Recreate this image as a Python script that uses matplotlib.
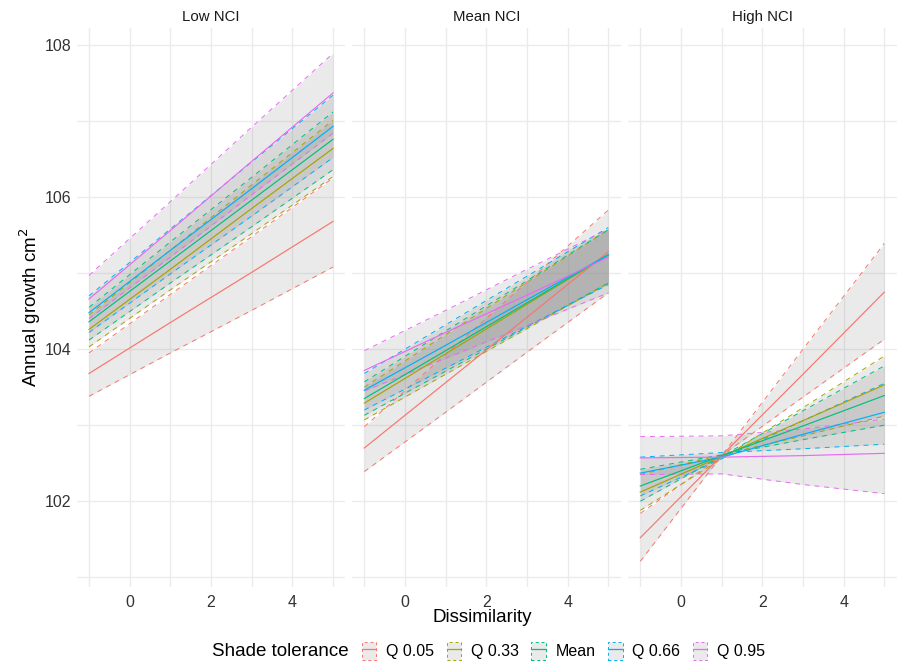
import matplotlib

matplotlib.use("Agg")
import matplotlib.pyplot as plt
from matplotlib.legend_handler import HandlerTuple
from matplotlib.lines import Line2D
from matplotlib.patches import Patch

X = [-1, 1, 3, 5]
LEVELS = ["Q 0.05", "Q 0.33", "Mean", "Q 0.66", "Q 0.95"]
COLORS = ["#F8766D", "#A3A500", "#00BF7D", "#00B0F6", "#E76BF3"]
PANELS = ["Low NCI", "Mean NCI", "High NCI"]

# Low NCI: one row per shade-tolerance level
LOW_FIT = [
    [103.68, 104.35, 105.01, 105.68],
    [104.26, 105.05, 105.85, 106.64],
    [104.36, 105.16, 105.96, 106.76],
    [104.48, 105.30, 106.11, 106.93],
    [104.66, 105.56, 106.47, 107.37],
]
LOW_LO = [
    [103.38, 103.95, 104.51, 105.08],
    [104.03, 104.78, 105.52, 106.27],
    [104.12, 104.87, 105.61, 106.36],
    [104.22, 104.99, 105.75, 106.52],
    [104.40, 105.21, 106.03, 106.84],
]
LOW_HI = [
    [103.95, 104.72, 105.48, 106.25],
    [104.45, 105.30, 106.16, 107.01],
    [104.55, 105.41, 106.26, 107.12],
    [104.70, 105.58, 106.46, 107.34],
    [104.97, 105.94, 106.92, 107.89],
]

# Mean NCI
MEAN_FIT = [
    [102.70, 103.56, 104.42, 105.28],
    [103.29, 103.94, 104.59, 105.24],
    [103.35, 103.98, 104.61, 105.24],
    [103.46, 104.05, 104.65, 105.24],
    [103.72, 104.22, 104.71, 105.21],
]
MEAN_LO = [
    [102.39, 103.17, 103.96, 104.74],
    [103.07, 103.67, 104.27, 104.87],
    [103.13, 103.71, 104.29, 104.87],
    [103.20, 103.75, 104.30, 104.85],
    [103.45, 103.88, 104.31, 104.74],
]
MEAN_HI = [
    [102.98, 103.93, 104.88, 105.83],
    [103.50, 104.19, 104.88, 105.57],
    [103.57, 104.24, 104.90, 105.57],
    [103.68, 104.32, 104.96, 105.60],
    [103.98, 104.51, 105.05, 105.58],
]

# High NCI (bands cross near dissimilarity = 1)
HIGH_FIT = [
    [101.52, 102.60, 103.67, 104.75],
    [102.12, 102.59, 103.06, 103.53],
    [102.20, 102.60, 102.99, 103.39],
    [102.37, 102.58, 102.88, 103.17],
    [102.57, 102.58, 102.60, 102.63],
]
HIGH_LO = [
    [101.21, 102.60, 104.00, 105.39],
    [101.88, 102.56, 103.23, 103.91],
    [102.00, 102.59, 103.19, 103.78],
    [102.07, 102.56, 103.06, 103.55],
    [102.35, 102.36, 102.22, 102.10],
]
HIGH_HI = [
    [101.84, 102.60, 103.37, 104.13],
    [102.35, 102.61, 102.86, 103.12],
    [102.42, 102.61, 102.81, 103.00],
    [102.58, 102.64, 102.69, 102.75],
    [102.85, 102.86, 102.95, 103.08],
]

RIBBON = (0.5, 0.5, 0.5, 0.16)
GRID = "#EBEBEB"
TEXT = "#333333"

plt.rcParams.update(
    {
        "font.family": ["Liberation Sans", "DejaVu Sans"],
        "font.size": 11.5,
    }
)

panel_data = {
    "Low NCI": (LOW_FIT, LOW_LO, LOW_HI),
    "Mean NCI": (MEAN_FIT, MEAN_LO, MEAN_HI),
    "High NCI": (HIGH_FIT, HIGH_LO, HIGH_HI),
}

W, H = 899, 663
fig = plt.figure(figsize=(W / 100, H / 100), dpi=100)

lefts = [76.8, 352.1, 628.1]
pw = 268.4
bottom, top = 586.7, 28.0

for i, name in enumerate(PANELS):
    ax = fig.add_axes([lefts[i] / W, (H - bottom) / H, pw / W, (bottom - top) / H])
    fit, lo, hi = panel_data[name]

    # ribbons first, then fitted lines on top
    for k, c in enumerate(COLORS):
        ax.fill_between(X, lo[k], hi[k], color=RIBBON, linewidth=0, zorder=2)
        ax.plot(X, lo[k], color=c, lw=0.7, ls=(0, (5, 5)), zorder=3)
        ax.plot(X, hi[k], color=c, lw=0.7, ls=(0, (5, 5)), zorder=3)
    for k, c in enumerate(COLORS):
        ax.plot(X, fit[k], color=c, lw=0.85, zorder=4)

    ax.set_xlim(-1.3, 5.3)
    ax.set_ylim(100.876, 108.224)
    ax.set_xticks([0, 2, 4])
    ax.set_xticks([-1, 1, 3, 5], minor=True)
    ax.set_yticks([102, 104, 106, 108])
    ax.set_yticks([101, 103, 105, 107], minor=True)
    ax.grid(True, which="both", color=GRID, lw=1.0, zorder=0)
    ax.set_axisbelow(True)
    for s in ax.spines.values():
        s.set_visible(False)
    ax.tick_params(which="both", length=0, labelsize=11.5, labelcolor=TEXT)
    ax.tick_params(axis="x", pad=6)
    ax.tick_params(axis="y", pad=4)
    if i > 0:
        ax.set_yticklabels([])
    ax.text(0.5, 1.0 + 11 / (bottom - top), name, transform=ax.transAxes,
            ha="center", va="center", fontsize=10.8, color="#1A1A1A")

fig.text(482 / W, 1 - 617 / H, "Dissimilarity", ha="center", va="center", fontsize=13.5)
fig.text(30 / W, 1 - 307 / H, "Annual growth cm$^2$", ha="center", va="center",
         rotation=90, fontsize=13.5)

fig.text(212 / W, 12 / H, "Shade tolerance", ha="left", va="center", fontsize=13.5)
handles = [
    (Patch(facecolor=RIBBON, edgecolor=c, linestyle=(0, (3, 3)), linewidth=0.7),
     Line2D([], [], color=c, lw=0.9))
    for c in COLORS
]
fig.legend(
    handles,
    LEVELS,
    ncol=5,
    loc="center left",
    bbox_to_anchor=(362 / W, 12 / H),
    frameon=False,
    handler_map={tuple: HandlerTuple(ndivide=1)},
    handlelength=0.9,
    handleheight=1.4,
    handletextpad=0.6,
    columnspacing=0.8,
    fontsize=11.5,
    borderpad=0,
    borderaxespad=0,
)

fig.savefig("out.png", dpi=100)
